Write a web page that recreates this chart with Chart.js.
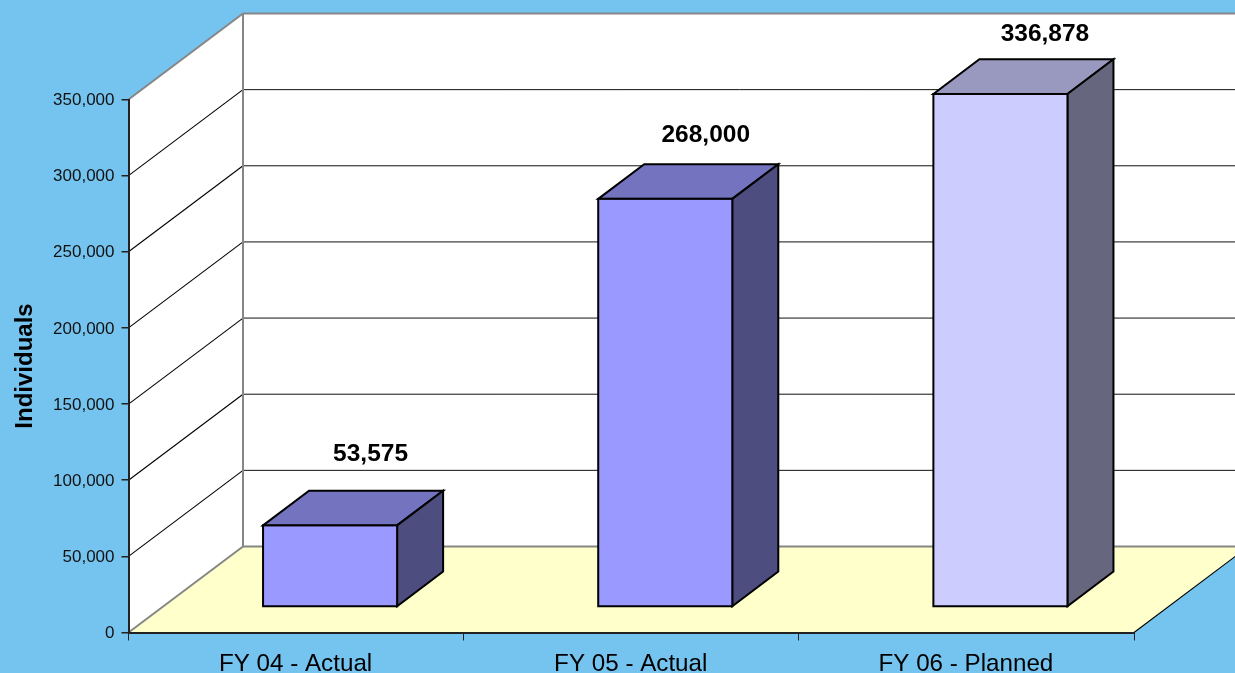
<!DOCTYPE html>
<html>
<head>
<meta charset="utf-8">
<style>
html,body{margin:0;padding:0;background:#75C4F0;overflow:hidden}
canvas{display:block}
</style>
<script src="https://cdn.jsdelivr.net/npm/chart.js@4"></script>
</head>
<body>
<canvas id="c" width="1235" height="673"></canvas>
<script>
const categories = ["FY 04 - Actual", "FY 05 - Actual", "FY 06 - Planned"];
const individuals = [53575, 268000, 336878];
const valueLabels = ["53,575", "268,000", "336,878"];
const yAxisTitle = "Individuals";

const frontColors = ["#9999FF", "#9999FF", "#CCCCFF"];
const topColors = ["#7373BF", "#7373BF", "#9999BF"];
const sideColors = ["#4D4D80", "#4D4D80", "#66667F"];

// 3D projection, in pixels
const WALL = {dx: 114.5, dy: -86};
const SHIFT = {dx: 34, dy: -25.5};
const DEPTH = {dx: 46, dy: -34.7};
const LABEL_NUDGE = [{dx: 40.5, dy: -71.5}, {dx: 40.5, dy: -63.5}, {dx: 44.5, dy: -60}];

function poly(ctx, pts, fill, stroke, lw) {
  ctx.beginPath();
  pts.forEach((p, i) => i ? ctx.lineTo(p[0], p[1]) : ctx.moveTo(p[0], p[1]));
  ctx.closePath();
  if (fill) { ctx.fillStyle = fill; ctx.fill(); }
  if (stroke) { ctx.strokeStyle = stroke; ctx.lineWidth = lw; ctx.stroke(); }
}
function line(ctx, x1, y1, x2, y2, color, lw) {
  ctx.beginPath(); ctx.moveTo(x1, y1); ctx.lineTo(x2, y2);
  ctx.strokeStyle = color; ctx.lineWidth = lw; ctx.stroke();
}

const room = {
  id: "room",
  beforeDraw(chart) {
    const {ctx, chartArea: a, scales: {y}} = chart;
    const W = chart.width;
    const bx = a.left + WALL.dx, by = a.top + WALL.dy, fy = a.bottom + WALL.dy;
    ctx.save();
    // floor
    poly(ctx, [[a.left, a.bottom], [bx, fy], [a.right + WALL.dx, fy], [a.right, a.bottom]], "#FFFFCC");
    // side wall and back wall
    poly(ctx, [[a.left, a.bottom], [a.left, a.top], [bx, by], [bx, fy]], "#FFFFFF");
    poly(ctx, [[bx, by], [W + 2, by], [W + 2, fy], [bx, fy]], "#FFFFFF");
    // gridlines
    y.ticks.forEach(t => {
      if (t.value === 0 || t.value === y.max) return;
      const py = y.getPixelForValue(t.value);
      line(ctx, a.left, py, bx, py + WALL.dy, "#000000", 1.1);
      line(ctx, bx, py + WALL.dy, W + 2, py + WALL.dy, "#111111", 1);
    });
    // frame
    line(ctx, a.left, a.top, bx, by, "#868686", 2);
    line(ctx, bx, by, W + 2, by, "#868686", 2);
    line(ctx, bx, by, bx, fy, "#868686", 2);
    line(ctx, bx, fy, W + 2, fy, "#868686", 2);
    line(ctx, a.left, a.bottom, bx, fy, "#868686", 2);
    line(ctx, a.right, a.bottom, a.right + WALL.dx, fy, "#000000", 1.1);
    ctx.restore();
  },
  beforeDatasetsDraw(chart) {
    const ctx = chart.ctx;
    ctx.save();
    ctx.translate(SHIFT.dx, SHIFT.dy);
    chart.getDatasetMeta(0).data.forEach((b, i) => {
      const l = b.x - b.width / 2, r = b.x + b.width / 2, t = b.y, base = b.base;
      ctx.lineJoin = "miter";
      poly(ctx, [[l, t], [l + DEPTH.dx, t + DEPTH.dy], [r + DEPTH.dx, t + DEPTH.dy], [r, t]], topColors[i], "#000", 2);
      poly(ctx, [[r, t], [r + DEPTH.dx, t + DEPTH.dy], [r + DEPTH.dx, base + DEPTH.dy], [r, base]], sideColors[i], "#000", 2);
    });
  },
  afterDatasetsDraw(chart) {
    const ctx = chart.ctx;
    // outline of the front faces, still in the shifted space
    chart.getDatasetMeta(0).data.forEach(b => {
      ctx.strokeStyle = "#000";
      ctx.lineWidth = 2;
      ctx.strokeRect(b.x - b.width / 2, b.y, b.width, b.base - b.y);
    });
    ctx.restore();
    ctx.save();
    ctx.font = 'bold 24.5px "Liberation Sans"';
    ctx.fillStyle = "#000";
    ctx.textAlign = "center";
    ctx.textBaseline = "middle";
    chart.getDatasetMeta(0).data.forEach((b, i) => {
      const n = LABEL_NUDGE[i];
      ctx.fillText(valueLabels[i], b.x + SHIFT.dx + n.dx, b.y + SHIFT.dy + n.dy);
    });
    ctx.restore();
  }
};

new Chart(document.getElementById("c"), {
  type: "bar",
  data: {
    labels: categories,
    datasets: [{
      data: individuals,
      backgroundColor: frontColors,
      borderWidth: 0,
      categoryPercentage: 1,
      barPercentage: 0.4,
      clip: false
    }]
  },
  plugins: [room],
  options: {
    responsive: false,
    animation: false,
    events: [],
    layout: {padding: {top: 99.5, right: 101, left: 0, bottom: 0}},
    plugins: {legend: {display: false}, tooltip: {enabled: false}, title: {display: false}},
    scales: {
      x: {
        afterFit(s) { s.height = 40.5; },
        grid: {drawOnChartArea: false, drawTicks: true, tickLength: 8, color: "#222", lineWidth: 1},
        border: {color: "#222", width: 2},
        ticks: {color: "#000", font: {family: "Liberation Sans", size: 24.2}, padding: 9, labelOffset: -0.5, maxRotation: 0}
      },
      y: {
        min: 0, max: 350000,
        afterFit(s) { s.width = 128.5; },
        grid: {drawOnChartArea: false, drawTicks: true, tickLength: 7, color: "#222", lineWidth: 1.5},
        border: {color: "#222", width: 2},
        ticks: {
          stepSize: 50000, color: "#111", padding: 7, labelOffset: 1,
          font: {family: "Liberation Sans", size: 17},
          callback: v => v.toLocaleString("en-US")
        },
        title: {
          display: true, text: yAxisTitle, color: "#000",
          font: {family: "Liberation Sans", size: 24, weight: "bold"},
          padding: {top: 11, bottom: 0}
        }
      }
    }
  }
});
</script>
</body>
</html>
